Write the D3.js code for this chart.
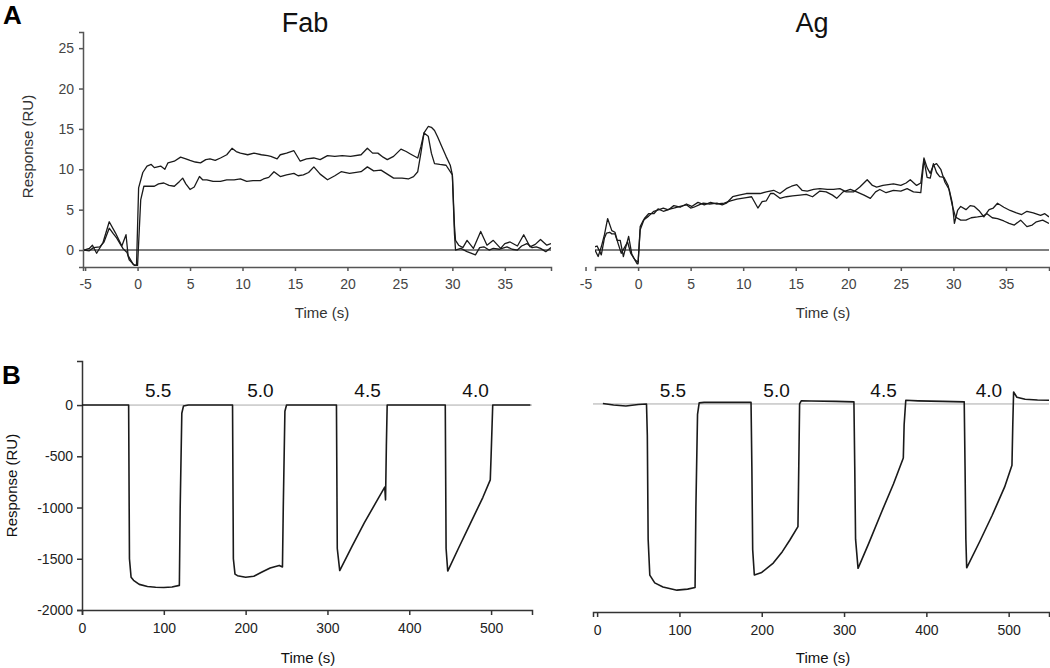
<!DOCTYPE html>
<html>
<head>
<meta charset="utf-8">
<script src="https://cdn.jsdelivr.net/npm/d3@7"></script>
<style>
body { margin: 0; background: #fff; }
svg { font-family: "Liberation Sans", Arial, sans-serif; }
.top .tick text { fill: #444; }
.bot .tick text { fill: #222; }
</style>
</head>
<body>
<div id="chart"></div>
<script>
// ----- panel A, Fab (two injections) -----
var fabUpperT = [-5.1,-4.6,-4.3,-3.9,-3.3,-2.7,-2.1,-1.5,-1.1,-0.9,-0.4,-0.1,0.1,0.5,0.9,1.3,1.6,2.2,2.6,2.9,3.5,4.1,4.6,5.0,5.5,6.0,6.5,6.9,7.4,7.9,8.5,9.0,9.4,9.8,10.5,11.1,11.8,12.4,12.7,13.3,13.6,14.2,14.9,15.5,16.1,16.8,17.4,18.1,18.8,19.5,20.3,21.3,21.9,22.4,22.9,23.4,23.8,24.4,25.1,25.6,26.0,26.7,27.0,27.3,27.7,28.0,28.3,28.6,29.0,29.4,29.8,30.0,30.2,30.3,30.6,31.0,31.4,32.0,32.7,33.3,33.9,34.6,35.0,35.5,36.2,36.8,37.4,37.9,38.4,39.0,39.4];
var fabUpper = [0,0.2,0.6,-0.4,0.9,3.5,2.1,0.5,1.9,-0.7,-1.8,-1.9,7.7,9.6,10.4,10.6,10.2,10.4,10.0,10.8,11.0,11.5,11.3,11.1,10.9,10.8,11.2,11.3,11.1,11.4,11.8,12.6,12.2,12.0,11.8,12.0,11.8,11.7,11.6,11.3,11.8,12.0,12.3,11.0,11.3,11.4,11.2,11.7,11.6,11.7,11.6,11.8,12.6,12.0,12.0,11.5,11.2,11.6,12.5,12.2,11.9,11.4,12.8,14.5,15.3,15.2,14.8,14.0,12.8,11.6,10.5,9.3,3.0,1.2,0.6,0.3,1.2,0.2,2.3,0.6,1.2,0.2,0.8,1.0,0.5,1.9,0.4,0.7,1.3,0.6,0.8];
var fabLowerT = [-5.1,-4.6,-4.2,-3.6,-3.2,-2.7,-2.3,-2.0,-1.4,-1.0,-0.8,-0.3,0.0,0.3,0.6,1.0,1.6,2.0,2.5,3.0,3.5,4.0,4.3,4.6,5.0,5.4,5.9,6.2,6.6,7.2,7.9,8.5,9.2,9.8,10.4,11.0,11.7,12.0,12.5,13.0,13.6,14.2,14.9,15.3,15.8,16.3,16.8,17.4,18.1,18.8,19.4,20.2,21.3,21.9,22.5,23.2,23.8,24.4,25.2,25.8,26.3,26.7,27.0,27.3,27.7,28.0,28.3,28.8,29.4,30.0,30.2,30.3,30.8,31.4,32.2,32.6,33.0,33.5,33.9,34.5,35.2,35.7,36.2,36.6,37.1,37.6,38.0,38.4,38.9,39.4];
var fabLower = [0,-0.1,0.3,0.4,1.0,2.7,2.0,1.5,0.2,-0.3,-1.2,-1.9,-1.9,6.2,7.9,7.9,7.9,8.2,8.3,8.0,7.9,8.5,8.9,8.2,7.5,7.8,9.1,8.7,8.7,8.5,8.5,8.7,8.7,8.8,8.5,8.6,8.6,8.8,9.0,9.7,9.1,9.3,9.5,9.2,9.3,9.6,10.3,9.4,8.7,9.2,9.7,9.5,9.7,10.3,9.8,9.9,9.4,8.9,8.9,8.8,9.1,9.7,12.0,14.5,14.1,12.0,10.7,10.6,10.5,9.3,2.0,0.0,0.2,-0.2,-0.6,0.3,0.4,0.0,0.2,0.1,0.4,0.1,0.0,0.5,0.8,0.3,0.4,0.2,-0.2,0.3];

// ----- panel A, Ag (two injections) -----
var agAT = [-4.1,-3.9,-3.5,-3.2,-3.0,-2.7,-2.5,-2.2,-2.0,-1.7,-1.4,-1.2,-0.9,-0.6,-0.4,-0.1,0.0,0.2,0.5,1.0,1.5,2.0,2.4,2.8,3.4,4.0,4.6,5.0,5.3,5.8,6.2,6.8,7.5,8.0,8.4,9.0,9.6,10.3,11.0,11.6,12.2,12.9,13.5,14.1,14.6,15.1,15.6,16.1,16.7,17.3,18.0,18.6,19.2,19.8,20.5,21.1,21.8,22.3,22.7,23.3,24.3,25.0,25.5,25.9,26.5,26.9,27.2,27.5,27.8,28.1,28.4,28.8,29.2,29.6,29.9,30.1,30.4,30.7,31.2,31.6,32.0,32.5,32.9,33.4,33.8,34.2,34.8,35.4,36.0,36.5,37.0,37.6,38.3,38.7,39.1];
var agA = [0.4,0.5,-0.6,1.5,2.1,2.2,2.0,2.0,1.2,1.2,-0.8,0.2,1.7,-0.5,-1.0,-1.7,-1.7,2.9,3.7,4.2,4.8,5.0,5.2,5.0,5.2,5.4,5.6,5.2,5.3,5.6,5.8,5.7,5.8,5.6,5.8,6.6,6.8,7.0,7.0,7.0,7.2,7.4,7.0,7.6,7.9,8.1,7.4,7.3,7.5,7.6,7.5,7.5,7.6,7.2,7.2,7.8,8.7,8.0,7.8,8.0,8.2,8.0,8.3,8.7,8.0,8.3,11.4,10.2,9.5,10.5,10.7,10.0,8.4,7.5,5.8,3.3,4.9,5.4,5.0,5.5,5.4,4.8,4.1,5.0,5.2,5.8,5.3,4.9,4.6,4.4,4.8,4.6,4.3,4.5,4.1];
var agBT = [-4.1,-3.8,-3.5,-3.2,-2.9,-2.5,-2.2,-1.9,-1.6,-1.3,-1.0,-0.7,-0.3,0.0,0.2,0.6,1.0,1.5,1.9,2.4,2.9,3.4,4.0,4.6,5.1,5.7,6.3,6.9,7.5,8.2,8.8,9.4,10.3,10.8,11.4,11.8,12.2,12.6,12.9,13.5,14.1,14.7,15.4,16.0,16.6,17.3,17.9,18.5,18.9,19.5,20.2,20.8,21.5,22.1,22.6,23.0,23.6,24.3,25.0,25.6,26.2,26.9,27.2,27.5,27.8,28.1,28.4,28.7,29.1,29.5,29.9,30.2,30.7,31.2,31.7,32.3,32.8,33.2,33.7,34.2,34.8,35.3,35.8,36.4,37.0,37.5,37.9,38.5,39.1];
var agB = [0.0,-0.8,0.4,1.9,3.9,2.4,2.2,0.8,-0.4,0.3,1.0,-0.4,-1.2,-1.5,2.5,3.9,4.5,4.5,5.1,4.8,5.0,5.5,5.3,5.7,5.4,5.9,5.6,5.9,5.7,5.8,6.1,6.3,6.5,6.6,5.2,6.0,6.1,7.0,7.0,6.4,6.6,6.7,6.8,6.9,6.6,7.3,7.2,6.8,6.4,7.2,7.5,7.2,6.8,6.4,7.2,7.5,7.1,7.4,7.3,7.6,7.2,7.1,11.2,9.0,8.9,10.7,9.6,9.1,9.0,8.0,5.5,4.1,3.7,3.7,4.0,4.1,4.2,4.5,4.0,3.9,3.6,3.3,3.1,3.7,2.9,3.1,3.5,3.7,3.3];

// ----- panel B, pH pulses -----
var phLabels = ["5.5", "5.0", "4.5", "4.0"];
var phFabT = [93, 218, 349, 481];      // label centres (s)
var phAgT = [92, 218, 348, 476];

var pulseFabT = [0,57,58,60,63,70,80,90,100,110,119,120,122,124,130,184,185,187,190,200,210,220,230,241,245,246,248,250,311,312,315,330,345,360,370,371,372,373,444,445,447,460,475,490,499,500,502,548];
var pulseFab = [0,0,-1500,-1680,-1710,-1750,-1770,-1778,-1780,-1775,-1760,-1000,-80,-10,0,0,-1500,-1650,-1665,-1680,-1670,-1630,-1590,-1565,-1580,-1000,-60,0,0,-1400,-1615,-1380,-1150,-940,-800,-925,-400,0,0,-1400,-1620,-1400,-1150,-900,-730,-500,0,0];
var pulseAgT = [7,20,35,50,60,61,62,64,70,80,97,110,119,120,122,124,130,160,187,188,189,191,200,214,225,234,244,245,246,248,260,290,312,313,314,317,330,345,360,372,373,375,390,420,446,447,448,449,465,480,495,504,505,506,510,520,535,549];
var pulseAg = [5,-10,-20,-5,0,-300,-1300,-1645,-1720,-1760,-1790,-1780,-1765,-1000,-100,10,15,15,15,-600,-1400,-1645,-1620,-1530,-1420,-1310,-1180,-600,0,30,28,25,20,-600,-1300,-1580,-1340,-1050,-770,-520,-200,35,30,25,20,-600,-1300,-1575,-1320,-1070,-800,-590,-200,115,65,45,38,35];

var kinTicks = [-5, 0, 5, 10, 15, 20, 25, 30, 35];
var kinYTicks = [0, 5, 10, 15, 20, 25];
var pulseTicks = [0, 100, 200, 300, 400, 500];
var pulseYTicks = [0, -500, -1000, -1500, -2000];

function zip(t, v) {
    return t.map(function(d, i) { return [d, v[i]]; });
}

// plain hyphen minus, no thousands comma
function fmt(d) { return String(d); }

var svg = d3.select("#chart").append("svg")
    .attr("width", 1050)
    .attr("height", 668);

var clipId = 0;

function drawPanel(o) {
    var x = d3.scaleLinear().domain(o.xDomain).range([o.left, o.right]);
    var y = d3.scaleLinear().domain(o.yDomain).range([o.bottom, o.top]);
    var g = svg.append("g").attr("class", o.cls);

    clipId++;
    svg.append("clipPath").attr("id", "clip" + clipId)
        .append("rect")
        .attr("x", o.left).attr("y", o.top - 20)
        .attr("width", o.right - o.left).attr("height", o.bottom - o.top + 20);

    // zero line
    g.append("line")
        .attr("x1", o.left).attr("x2", o.right)
        .attr("y1", y(0)).attr("y2", y(0))
        .attr("stroke", o.zeroColor)
        .attr("stroke-width", o.zeroWidth);

    var xAxis = g.append("g")
        .attr("transform", "translate(0," + o.bottom + ")")
        .call(d3.axisBottom(x).tickValues(o.xTicks).tickFormat(fmt).tickSizeOuter(0)
            .tickSize(o.tick).tickPadding(o.xPad));
    xAxis.selectAll("text").style("font-size", o.tickFont + "px");
    xAxis.selectAll("path,line").attr("stroke", o.axisColor).attr("stroke-width", 1.5);

    if (o.yAxis) {
        var yAxis = g.append("g")
            .attr("transform", "translate(" + o.left + ",0)")
            .call(d3.axisLeft(y).tickValues(o.yTicks).tickFormat(fmt).tickSizeOuter(0)
                .tickSize(o.tick).tickPadding(o.yPad));
        yAxis.selectAll("text").style("font-size", o.tickFont + "px");
        yAxis.selectAll("path,line").attr("stroke", o.axisColor).attr("stroke-width", 1.5);

        g.append("text")
            .attr("transform", "translate(" + o.yLabelX + "," + ((o.top + o.bottom) / 2 + o.yLabelDy) + ") rotate(-90)")
            .attr("text-anchor", "middle")
            .style("font-size", o.labelFont + "px")
            .attr("fill", o.labelColor)
            .text("Response (RU)");
    }

    g.append("text")
        .attr("x", (o.left + o.right) / 2 + o.xLabelDx)
        .attr("y", o.xLabelY)
        .attr("text-anchor", "middle")
        .style("font-size", o.labelFont + "px")
        .attr("fill", o.labelColor)
        .text("Time (s)");

    var line = d3.line()
        .x(function(d) { return x(d[0]); })
        .y(function(d) { return y(d[1]); });

    o.traces.forEach(function(tr) {
        g.append("path")
            .datum(tr)
            .attr("clip-path", "url(#clip" + clipId + ")")
            .attr("fill", "none")
            .attr("stroke", "#1a1a1a")
            .attr("stroke-width", o.lineWidth)
            .attr("stroke-linejoin", "round")
            .attr("d", line);
    });

    if (o.title) {
        g.append("text")
            .attr("x", o.titleX)
            .attr("y", 32)
            .attr("text-anchor", "middle")
            .style("font-size", "27px")
            .attr("fill", "#111")
            .text(o.title);
    }

    if (o.phT) {
        g.selectAll(".ph")
            .data(o.phT)
            .enter().append("text")
            .attr("class", "ph")
            .attr("x", function(d) { return x(d); })
            .attr("y", 397)
            .attr("text-anchor", "middle")
            .style("font-size", "19px")
            .attr("fill", "#111")
            .text(function(d, i) { return phLabels[i]; });
    }
}

var topCommon = {
    cls: "top", top: 32, bottom: 267, yDomain: [-2.1, 27],
    yTicks: kinYTicks, xTicks: kinTicks, tick: 4, xPad: 8, yPad: 5,
    tickFont: 14, labelFont: 15, labelColor: "#333", axisColor: "#555",
    zeroColor: "#555", zeroWidth: 1.5, lineWidth: 1.3, xLabelY: 318,
    yLabelX: 33, yLabelDy: -3
};

drawPanel(Object.assign({}, topCommon, {
    left: 83, right: 551, xDomain: [-5.2, 39.4], yAxis: true,
    xLabelDx: 5, title: "Fab", titleX: 305,
    traces: [zip(fabUpperT, fabUpper), zip(fabLowerT, fabLower)]
}));

drawPanel(Object.assign({}, topCommon, {
    left: 595, right: 1049, xDomain: [-4.1, 39.1], yAxis: false,
    xLabelDx: 1, title: "Ag", titleX: 812,
    traces: [zip(agAT, agA), zip(agBT, agB)]
}));

var botCommon = {
    cls: "bot", top: 361, yTicks: pulseYTicks, xTicks: pulseTicks,
    tick: 5, xPad: 8, yPad: 4, tickFont: 14, labelFont: 15,
    labelColor: "#111", axisColor: "#333", zeroColor: "#aaa", zeroWidth: 1,
    lineWidth: 1.6, xLabelY: 663, yLabelX: 17, yLabelDy: 0
};

drawPanel(Object.assign({}, botCommon, {
    left: 82, right: 532, bottom: 610, xDomain: [0, 550], yDomain: [-2000, 430],
    yAxis: true, xLabelDx: 1, phT: phFabT,
    traces: [zip(pulseFabT, pulseFab)]
}));

drawPanel(Object.assign({}, botCommon, {
    left: 593, right: 1049, bottom: 612, xDomain: [-5, 549], yDomain: [-2000, 413],
    yAxis: false, xLabelDx: 2, phT: phAgT,
    traces: [zip(pulseAgT, pulseAg)]
}));

// panel letters
svg.append("text").attr("x", 3).attr("y", 24)
    .style("font-size", "26px").style("font-weight", "bold").text("A");
svg.append("text").attr("x", 2).attr("y", 384)
    .style("font-size", "26px").style("font-weight", "bold").text("B");
</script>
</body>
</html>
